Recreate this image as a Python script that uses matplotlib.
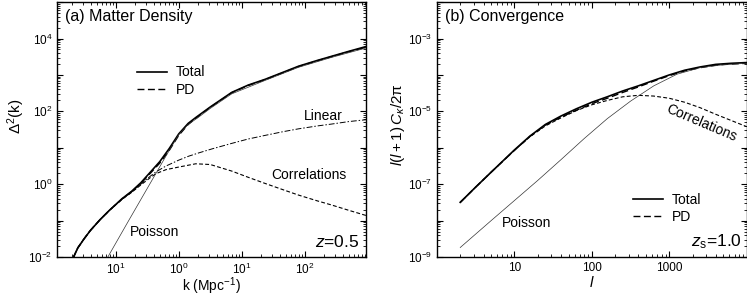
import numpy as np
import matplotlib
matplotlib.use('Agg')
import matplotlib.pyplot as plt

plt.rcParams['font.family'] = ['Liberation Sans', 'DejaVu Sans']
plt.rcParams['mathtext.fontset'] = 'custom'
plt.rcParams['mathtext.rm'] = 'Liberation Sans'
plt.rcParams['mathtext.it'] = 'Liberation Sans:italic'
plt.rcParams['mathtext.cal'] = 'Liberation Sans'

# (a) Matter density: log10 k and log10 Delta^2
total_a_logk = [-1.68, -1.6, -1.5, -1.4, -1.25, -1.1, -0.9, -0.75, -0.6, -0.45, -0.3, -0.15,
                0.0, 0.15, 0.27, 0.5, 0.84, 1.1, 1.37, 1.65, 1.9, 2.2, 2.42, 2.7, 2.97]
total_a = [-2.05, -1.75, -1.5, -1.27, -0.98, -0.72, -0.4, -0.2, 0.04, 0.33, 0.62, 0.98,
           1.38, 1.67, 1.83, 2.12, 2.52, 2.72, 2.88, 3.07, 3.24, 3.4, 3.51, 3.65, 3.78]
pd_a = [-2.05, -1.75, -1.5, -1.27, -0.98, -0.72, -0.41, -0.21, 0.02, 0.3, 0.58, 0.93,
        1.34, 1.64, 1.81, 2.11, 2.51, 2.71, 2.87, 3.06, 3.23, 3.39, 3.5, 3.64, 3.76]
linear_a_logk = [-1.68, -1.6, -1.5, -1.4, -1.25, -1.1, -0.9, -0.75, -0.6, -0.45, -0.36, -0.2,
                 0.0, 0.16, 0.32, 0.53, 0.84, 1.1, 1.37, 1.65, 1.9, 2.2, 2.42, 2.7, 2.97]
linear_a = [-2.05, -1.75, -1.5, -1.27, -0.98, -0.72, -0.41, -0.22, 0.0, 0.22, 0.34, 0.5,
            0.66, 0.77, 0.86, 0.97, 1.12, 1.24, 1.34, 1.44, 1.52, 1.6, 1.65, 1.72, 1.77]
corr_a_logk = [-1.68, -1.6, -1.5, -1.4, -1.25, -1.1, -0.9, -0.75, -0.6, -0.45, -0.36, -0.2,
               0.0, 0.27, 0.5, 0.84, 1.1, 1.37, 1.65, 1.9, 2.2, 2.42, 2.7, 2.97]
corr_a = [-2.05, -1.75, -1.5, -1.27, -0.98, -0.72, -0.42, -0.23, -0.02, 0.18, 0.29, 0.4,
          0.47, 0.56, 0.54, 0.36, 0.19, 0.02, -0.15, -0.3, -0.46, -0.57, -0.72, -0.86]
poisson_a_logk = [-1.13, -0.8, -0.5, -0.2, 0.0, 0.15, 0.3, 0.5, 0.84, 1.37, 1.9, 2.42, 2.97]
poisson_a = [-2.02, -1.02, -0.12, 0.78, 1.36, 1.64, 1.82, 2.08, 2.48, 2.85, 3.21, 3.48, 3.74]

# (b) Convergence: log10 l and log10 l(l+1)C/2pi
total_b_logl = [0.3, 0.5, 0.7, 1.0, 1.2, 1.4, 1.6, 1.8, 2.0, 2.2, 2.4, 2.6, 2.8, 3.0,
                3.2, 3.4, 3.6, 3.8, 4.0]
total_b = [-7.5, -7.08, -6.67, -6.06, -5.68, -5.36, -5.13, -4.93, -4.75, -4.6, -4.44, -4.3,
           -4.15, -4.0, -3.87, -3.78, -3.71, -3.68, -3.66]
pd_b = [-7.5, -7.08, -6.67, -6.07, -5.69, -5.38, -5.16, -4.97, -4.79, -4.64, -4.48, -4.33,
        -4.17, -4.02, -3.89, -3.8, -3.73, -3.7, -3.68]
corr_b = [-7.5, -7.08, -6.67, -6.07, -5.7, -5.4, -5.18, -4.98, -4.82, -4.7, -4.6, -4.56,
          -4.58, -4.64, -4.75, -4.9, -5.08, -5.25, -5.42]
poisson_b_logl = [0.3, 0.7, 1.0, 1.3, 1.6, 1.9, 2.2, 2.5, 2.8, 3.1, 3.4, 3.7, 4.0]
poisson_b = [-8.74, -8.0, -7.45, -6.9, -6.33, -5.75, -5.2, -4.72, -4.3, -3.98, -3.8, -3.72, -3.68]

xticks_a = [0.1, 1, 10, 100]
xticklabels_a = ['$10^{1}$', '$10^{0}$', '$10^{1}$', '$10^{2}$']
xticks_b = [10, 100, 1000]
xticklabels_b = ['10', '100', '1000']


def p10(v):
    return 10 ** np.array(v)


def style_axis(ax, ylo, yhi, parity):
    ax.set_xscale('log')
    ax.set_yscale('log')
    decades = np.arange(ylo, yhi + 1)
    ax.set_yticks(10.0 ** decades)
    ax.set_yticklabels(['$10^{%d}$' % d if d % 2 == parity else '' for d in decades])
    ax.yaxis.set_minor_locator(matplotlib.ticker.LogLocator(base=10, subs=np.arange(2, 10), numticks=30))
    ax.yaxis.set_minor_formatter(matplotlib.ticker.NullFormatter())
    ax.tick_params(which='both', direction='in', top=True, right=True, labelsize=8.5)
    ax.tick_params(which='major', length=4, width=0.8)
    ax.tick_params(which='minor', length=2, width=0.6)
    for s in ax.spines.values():
        s.set_linewidth(1.0)


fig = plt.figure(figsize=(7.47, 2.96), dpi=100)

# ---- panel (a)
ax1 = fig.add_axes([0.0763, 0.1318, 0.4137, 0.861])
ax1.plot(p10(total_a_logk), p10(total_a), 'k-', lw=1.2, label='Total')
ax1.plot(p10(total_a_logk), p10(pd_a), 'k--', lw=1.0, dashes=(5, 2.5), label='PD')
ax1.plot(p10(linear_a_logk), p10(linear_a), 'k-.', lw=0.7, dashes=(6, 2, 1.5, 2))
ax1.plot(p10(corr_a_logk), p10(corr_a), 'k--', lw=0.8, dashes=(3.5, 2))
ax1.plot(p10(poisson_a_logk), p10(poisson_a), '-', color='0.2', lw=0.5)
style_axis(ax1, -2, 5, 0)
ax1.set_xlim(10 ** -1.93, 10 ** 2.97)
ax1.set_ylim(1e-2, 1e5)
ax1.set_xticks(xticks_a)
ax1.set_xticklabels(xticklabels_a)
ax1.xaxis.set_minor_formatter(matplotlib.ticker.NullFormatter())
ax1.set_xlabel('k (Mpc$^{-1}$)', fontsize=10, labelpad=-1)
ax1.set_ylabel('Δ$^2$(k)', fontsize=11)
ax1.yaxis.set_label_coords(-0.097, 0.553)
ax1.text(0.025, 0.975, '(a) Matter Density', transform=ax1.transAxes, fontsize=11.5,
         ha='left', va='top')
ax1.text(0.925, 0.555, 'Linear', transform=ax1.transAxes, fontsize=10, ha='right', va='center')
ax1.text(0.815, 0.32, 'Correlations', transform=ax1.transAxes, fontsize=10, ha='center', va='center')
ax1.text(0.317, 0.1, 'Poisson', transform=ax1.transAxes, fontsize=10, ha='center', va='center')
ax1.text(0.98, 0.06, '$z$=0.5', transform=ax1.transAxes, fontsize=12.5, ha='right', va='center')
ax1.legend(loc='center left', bbox_to_anchor=(0.235, 0.69), frameon=False, fontsize=10,
           handlelength=2.2, handletextpad=0.6, labelspacing=0.25, borderpad=0)

# ---- panel (b)
ax2 = fig.add_axes([0.585, 0.1318, 0.4145, 0.861])
ax2.plot(p10(total_b_logl), p10(total_b), 'k-', lw=1.2, label='Total')
ax2.plot(p10(total_b_logl), p10(pd_b), 'k--', lw=1.0, dashes=(5, 2.5), label='PD')
ax2.plot(p10(total_b_logl), p10(corr_b), 'k--', lw=0.8, dashes=(3.5, 2))
ax2.plot(p10(poisson_b_logl), p10(poisson_b), '-', color='0.2', lw=0.5)
style_axis(ax2, -9, -2, 1)
ax2.set_xlim(1, 1e4)
ax2.set_ylim(1e-9, 1e-2)
ax2.set_xticks(xticks_b)
ax2.set_xticklabels(xticklabels_b)
ax2.xaxis.set_minor_formatter(matplotlib.ticker.NullFormatter())
ax2.set_xlabel('$l$', fontsize=11, labelpad=1)
ax2.set_ylabel('$l(l+1)\\,C_{\\kappa}/2$π', fontsize=11)
ax2.yaxis.set_label_coords(-0.096, 0.518)
ax2.text(0.025, 0.975, '(b) Convergence', transform=ax2.transAxes, fontsize=11.5,
         ha='left', va='top')
ax2.text(0.855, 0.525, 'Correlations', transform=ax2.transAxes, fontsize=10, ha='center',
         va='center', rotation=-23)
ax2.text(0.29, 0.135, 'Poisson', transform=ax2.transAxes, fontsize=10, ha='center', va='center')
ax2.text(0.985, 0.06, '$z_{\\rm s}$=1.0', transform=ax2.transAxes, fontsize=12.5, ha='right',
         va='center')
ax2.legend(loc='center left', bbox_to_anchor=(0.61, 0.19), frameon=False, fontsize=10,
           handlelength=2.2, handletextpad=0.6, labelspacing=0.25, borderpad=0)

fig.savefig('out.png', dpi=100)
